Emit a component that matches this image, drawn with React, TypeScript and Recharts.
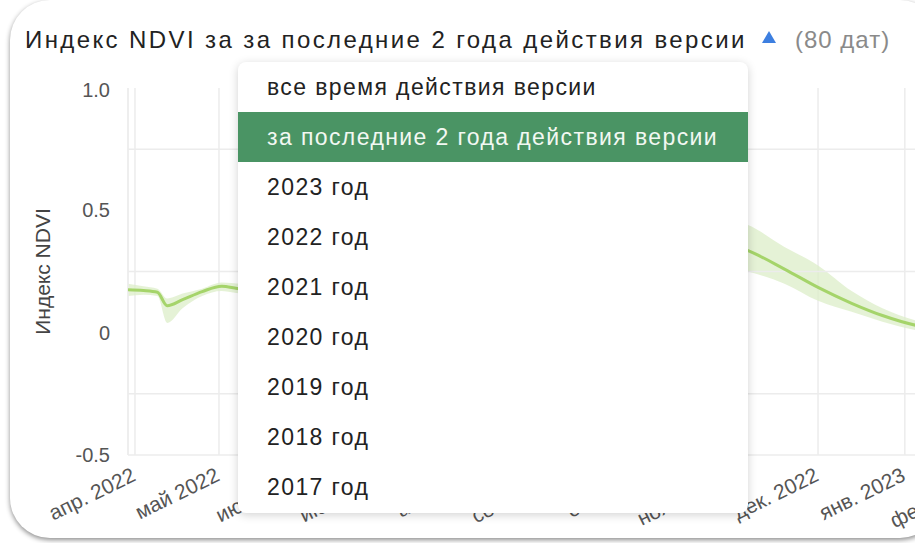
import React from 'react';
import { ComposedChart, Area, Line, XAxis, YAxis, CartesianGrid, ReferenceLine } from 'recharts';

// days since 1 Apr 2022
const dayOffsets = [-2.5, 3, 8, 11.5, 17, 24, 31, 38, 48, 60, 72, 85, 98, 110, 122, 135, 150, 165, 180, 195, 208, 219, 232, 244, 256, 267, 279, 292, 305, 309];
const ndviMean = [0.175, 0.172, 0.165, 0.11, 0.135, 0.168, 0.19, 0.18, 0.22, 0.3, 0.41, 0.52, 0.6, 0.63, 0.62, 0.58, 0.53, 0.49, 0.45, 0.41, 0.375, 0.335, 0.26, 0.185, 0.12, 0.07, 0.03, 0.01, 0.0, 0.0];
const ndviLow = [0.15, 0.155, 0.15, 0.04, 0.1, 0.15, 0.17, 0.16, 0.19, 0.26, 0.36, 0.46, 0.54, 0.57, 0.56, 0.52, 0.47, 0.42, 0.37, 0.32, 0.28, 0.25, 0.2, 0.13, 0.085, 0.045, 0.01, -0.01, -0.02, -0.02];
const ndviHigh = [0.2, 0.19, 0.18, 0.14, 0.16, 0.18, 0.205, 0.2, 0.25, 0.34, 0.46, 0.58, 0.66, 0.69, 0.68, 0.64, 0.59, 0.56, 0.53, 0.5, 0.47, 0.44, 0.35, 0.275, 0.17, 0.1, 0.05, 0.03, 0.02, 0.02];

const monthTicks = [0, 30, 61, 91, 122, 153, 183, 214, 244, 275, 306];
const monthLabels = ['апр. 2022', 'май 2022', 'июн. 2022', 'июл. 2022', 'авг. 2022', 'сент. 2022', 'окт. 2022', 'нояб. 2022', 'дек. 2022', 'янв. 2023', 'февр. 2023'];
const yTicks = [-0.5, 0, 0.5, 1.0];
const yTickLabels = ['-0.5', '0', '0.5', '1.0'];
const gridValues = [0.75, 0.25, -0.25, -0.5];

const titleText = 'Индекс NDVI за за последние 2 года действия версии';
const countText = '(80 дат)';
const yAxisTitle = 'Индекс NDVI';
const periodOptions = ['все время действия версии', 'за последние 2 года действия версии', '2023 год', '2022 год', '2021 год', '2020 год', '2019 год', '2018 год', '2017 год'];
const selectedOption = 1;

const data = dayOffsets.map((d, i) => ({
  day: d,
  mean: ndviMean[i],
  range: [ndviLow[i], ndviHigh[i]],
}));

const FONT = '"Liberation Sans", Arial, Helvetica, sans-serif';

const XTick = (props: any) => {
  const { x, y, payload } = props;
  const idx = monthTicks.indexOf(payload.value);
  return (
    <g transform={`translate(${x + 2},${y + 25})`}>
      <text textAnchor="end" transform="rotate(-26)" fontSize={21} fill="#555" fontFamily={FONT}>
        {monthLabels[idx]}
      </text>
    </g>
  );
};

export default function App() {
  return (
    <div style={{ position: 'fixed', left: 0, top: 0, width: 915, height: 543, overflow: 'hidden', background: '#fff', fontFamily: FONT }}>
      <div style={{ position: 'absolute', left: 10, top: 0, width: 930, height: 538, borderRadius: 40, overflow: 'hidden', background: '#fff', boxShadow: '0 2px 5px rgba(0,0,0,0.45)' }}>
        <div style={{ position: 'absolute', left: 15, top: 27, fontSize: 24, letterSpacing: 2.4, color: '#222', whiteSpace: 'nowrap', lineHeight: '26px' }}>
          {titleText}
        </div>
        <svg style={{ position: 'absolute', left: 752, top: 31 }} width={14} height={13}>
          <polygon points="7,0 14,12 0,12" fill="#3d7fe0" />
        </svg>
        <div style={{ position: 'absolute', left: 785, top: 27, fontSize: 24, letterSpacing: 1, color: '#8a8a8a', whiteSpace: 'nowrap', lineHeight: '26px' }}>
          {countText}
        </div>
        <div style={{ position: 'absolute', left: -10, top: 78 }}>
          <ComposedChart width={1000} height={457} data={data} margin={{ top: 10, right: 0, bottom: 0, left: 0 }}>
            <CartesianGrid horizontal={false} stroke="#ececec" strokeWidth={1.5} />
            {gridValues.map((v) => (
              <ReferenceLine key={v} y={v} stroke="#ececec" strokeWidth={1.5} />
            ))}
            <ReferenceLine x={-2.5} stroke="#ececec" strokeWidth={1.5} />
            <XAxis
              dataKey="day"
              type="number"
              domain={[-2.5, 309]}
              ticks={monthTicks}
              allowDataOverflow
              axisLine={false}
              tickLine={false}
              tickSize={0}
              tickMargin={0}
              height={80}
              interval={0}
              tick={<XTick />}
            />
            <YAxis
              type="number"
              domain={[-0.5, 1]}
              ticks={yTicks}
              width={128}
              axisLine={false}
              tickLine={false}
              tickSize={0}
              tickMargin={18}
              tickFormatter={(v: number) => yTickLabels[yTicks.indexOf(v)]}
              tick={{ fontSize: 20, fill: '#555', fontFamily: FONT }}
              label={{ value: yAxisTitle, angle: -90, position: 'center', dx: -21, fontSize: 21, fill: '#444', fontFamily: FONT }}
            />
            <Area type="monotone" dataKey="range" stroke="none" fill="#dcedc8" fillOpacity={0.75} isAnimationActive={false} />
            <Line type="monotone" dataKey="mean" stroke="#a5d46a" strokeWidth={3} dot={false} isAnimationActive={false} />
          </ComposedChart>
        </div>
        <div style={{ position: 'absolute', left: 228, top: 62, width: 510, height: 451, background: '#fff', borderRadius: 8, boxShadow: '0 2px 10px rgba(0,0,0,0.18)', overflow: 'hidden' }}>
          {periodOptions.map((opt, i) => (
            <div
              key={opt}
              style={{
                height: 50,
                lineHeight: '50px',
                paddingLeft: 29,
                fontSize: 23,
                letterSpacing: 1.4,
                whiteSpace: 'nowrap',
                background: i === selectedOption ? '#4a9464' : 'transparent',
                color: i === selectedOption ? '#f2f8f2' : '#222',
              }}
            >
              {opt}
            </div>
          ))}
        </div>
      </div>
    </div>
  );
}
